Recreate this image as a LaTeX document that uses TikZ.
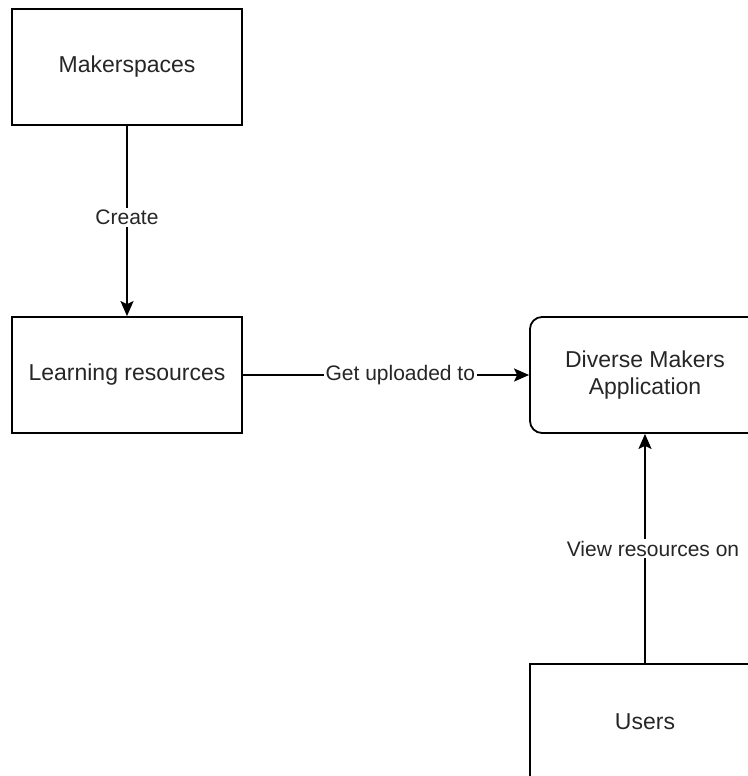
\documentclass[tikz,border=0pt]{standalone}
\usepackage{fontspec}
\setmainfont{Liberation Sans}
\usepackage{tikz}
\usetikzlibrary{arrows.meta}

\begin{document}
\begin{tikzpicture}[x=0.5pt,y=-0.5pt]
    \tikzset{block/.style = {shape=rectangle,draw,line width=0.9pt,minimum width=115pt,minimum height=58pt,text=black!85,font=\fontsize{11.5}{13.5}\selectfont,align=center}}
    \tikzset{rblock/.style = {block,rounded corners=6pt}}
    \tikzset{edge/.style = {line width=0.9pt,-{Stealth[length=7.5pt,width=6.5pt,inset=1.5pt]}}}
    \tikzset{elabel/.style = {fill=white,text=black!85,font=\fontsize{10.5}{12.5}\selectfont,inner sep=1pt}}
    \useasboundingbox (0,0) rectangle (748,776);
    \clip (0,0) rectangle (748,776);
    % vertices
    \node[block] (makers) at (127,67) {Makerspaces};
    \node[block] (learn) at (127,375) {Learning resources};
    \node[rblock] (app) at (645,375) {Diverse Makers\\Application};
    \node[block] (users) at (645,722) {Users};
    %edges
    \draw[edge] (makers) to node[elabel,pos=0.48] {Create} (learn);
    \draw[edge] (learn) to node[elabel,pos=0.55] {Get uploaded to} (app);
    \draw[edge] (users) to node[elabel,xshift=4pt] {View resources on} (app);
\end{tikzpicture}
\end{document}
